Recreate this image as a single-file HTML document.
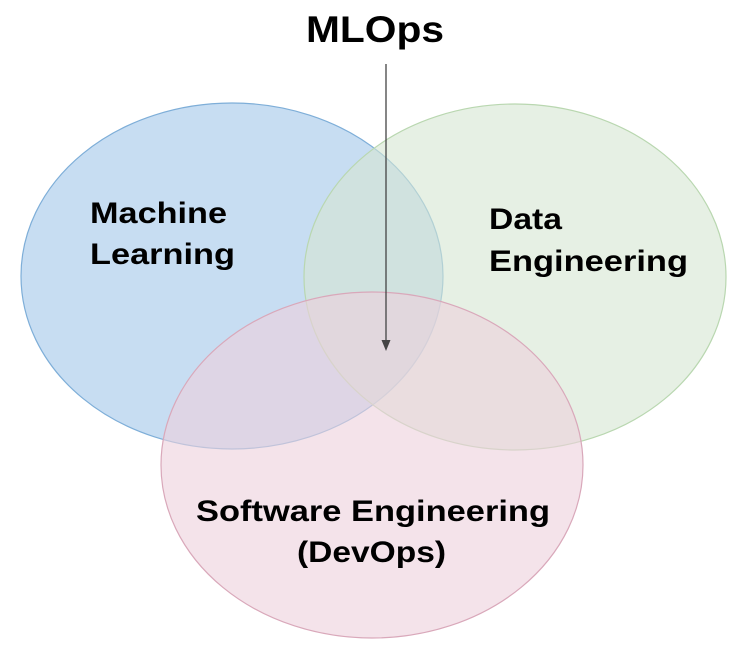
<!DOCTYPE html>
<html><head><meta charset="utf-8"><style>
html,body{margin:0;padding:0;background:#fff;}
svg{display:block;}
text{font-family:"Liberation Sans",Arial,sans-serif;font-weight:bold;fill:#000;}
</style></head><body>
<svg width="751" height="652" viewBox="0 0 751 652" xmlns="http://www.w3.org/2000/svg">
<ellipse cx="232" cy="276" rx="211" ry="173" fill="rgb(162,198,233)" fill-opacity="0.6" stroke="#7eaed8" stroke-width="1.2"/>
<ellipse cx="515" cy="277" rx="211" ry="173" fill="rgb(213,230,210)" fill-opacity="0.6" stroke="#b9d7b0" stroke-width="1.2"/>
<ellipse cx="372" cy="465" rx="211" ry="173" fill="rgb(237,208,220)" fill-opacity="0.6" stroke="#d9a8ba" stroke-width="1.2"/>
<line x1="386" y1="64" x2="386" y2="344" stroke="#444" stroke-width="1.3"/>
<path d="M381.5 340 L386 351 L390.5 340 Z" fill="#444"/>
<text x="306" y="42" font-size="37" textLength="138" lengthAdjust="spacingAndGlyphs">MLOps</text>
<text x="90" y="223" font-size="30" textLength="137" lengthAdjust="spacingAndGlyphs">Machine</text>
<text x="90" y="264" font-size="30" textLength="145" lengthAdjust="spacingAndGlyphs">Learning</text>
<text x="489" y="229" font-size="30" textLength="73" lengthAdjust="spacingAndGlyphs">Data</text>
<text x="489" y="271" font-size="30" textLength="199" lengthAdjust="spacingAndGlyphs">Engineering</text>
<text x="196" y="521" font-size="30" textLength="354" lengthAdjust="spacingAndGlyphs">Software Engineering</text>
<text x="297" y="562" font-size="30" textLength="149" lengthAdjust="spacingAndGlyphs">(DevOps)</text>
</svg>
</body></html>
